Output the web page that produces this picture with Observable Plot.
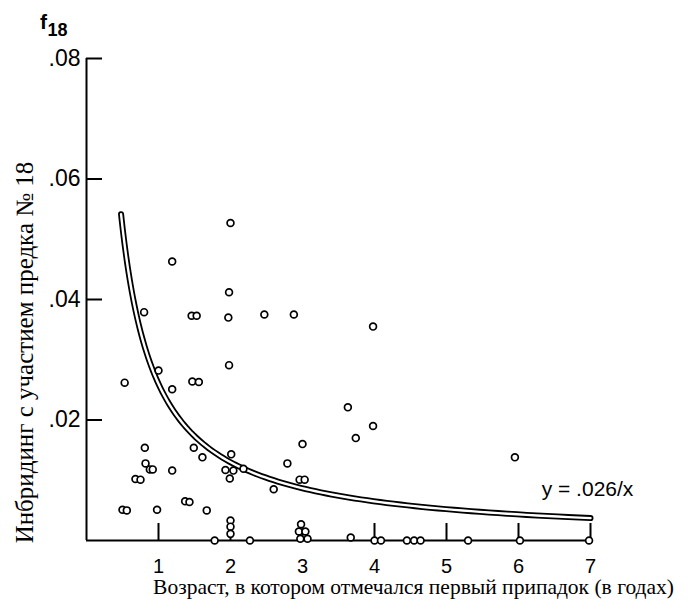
<!DOCTYPE html>
<html><head><meta charset="utf-8">
<script src="https://cdn.jsdelivr.net/npm/d3@7"></script>
<script src="https://cdn.jsdelivr.net/npm/@observablehq/plot@0.6"></script>
<style>body{margin:0;background:#fff}</style>
</head><body><div id="chart"></div>
<script>
// Data: age at first seizure (years) and inbreeding via ancestor #18
const ageX = [2.00,1.19,1.98,0.80,1.46,1.53,1.97,2.47,2.88,3.98,
  1.98,0.53,1.00,1.47,1.56,1.19,3.63,3.98,3.74,3.00,
  5.95,0.81,0.82,0.88,0.92,0.68,0.75,1.19,1.49,1.61,
  2.01,1.93,2.04,1.99,2.18,2.60,2.79,2.96,3.03,0.50,
  0.56,0.98,1.37,1.43,1.67,2.00,2.00,2.00,2.98,2.95,
  3.04,2.97,3.07,1.78,2.27,3.67,4.00,4.09,4.45,4.55,
  4.64,5.30,6.02,6.98];
const inbreedY = [.0527,.0463,.0412,.0379,.0373,.0373,.0370,.0375,.0375,.0355,
  .0291,.0262,.0282,.0264,.0263,.0251,.0221,.0190,.0170,.0160,
  .0138,.0154,.0128,.0118,.0118,.0102,.0101,.0116,.0154,.0138,
  .0143,.0117,.0116,.0103,.0119,.0085,.0128,.0101,.0101,.0051,
  .0050,.0051,.0065,.0064,.0050,.0033,.0023,.0011,.0027,.0015,
  .0015,.0003,.0003,0,0,.0005,0,0,0,0,
  0,0,0,0];
const xTicks = [1,2,3,4,5,6,7];
const xTickLabels = ["1","2","3","4","5","6","7"];
const yTicks = [0.02,0.04,0.06,0.08];
const yTickLabels = [".02",".04",".06",".08"];
const xTitle = "Возраст, в котором отмечался первый припадок (в годах)";
const yTitle = "Инбридинг с участием предка № 18";
const fSymbol = "f";
const fSub = "18";
const curveLabel = "y = .026/x";
const curveK = 0.026;       // fitted curve y = k / x
const curveRange = [0.48, 7];

const points = ageX.map((x, i) => ({x, y: inbreedY[i]}));
const curveXs = d3.range(120).map(i => curveRange[0] * Math.pow(curveRange[1] / curveRange[0], i / 119));
const curveData = curveXs.map(x => ({x, y: curveK / x}));

const sans = "Liberation Sans, Arial, sans-serif";
const serif = "Liberation Serif, Times New Roman, serif";

const chart = Plot.plot({
  width: 694,
  height: 601,
  marginLeft: 86,
  marginRight: 104,
  marginTop: 58,
  marginBottom: 61,
  x: {domain: [0, 7], label: null},
  y: {domain: [0, 0.08], label: null},
  style: {fontFamily: sans, background: "white", color: "black"},
  marks: [
    Plot.ruleX([0], {stroke: "black", strokeWidth: 2}),
    Plot.ruleY([0], {stroke: "black", strokeWidth: 2}),
    Plot.axisX({ticks: xTicks, tickSize: 17, dy: -17, tickFormat: () => "", strokeWidth: 2, label: null}),
    Plot.axisX({ticks: xTicks, tickSize: 0, tickPadding: 18, fontSize: 20, fontFamily: sans, label: null,
      tickFormat: d => xTickLabels[xTicks.indexOf(d)]}),
    Plot.axisY({ticks: yTicks, tickSize: 16, dx: 16, tickFormat: () => "", strokeWidth: 2, label: null}),
    Plot.axisY({ticks: yTicks, tickSize: 0, tickPadding: 6, fontSize: 23, fontFamily: sans, label: null,
      tickFormat: d => yTickLabels[yTicks.indexOf(d)]}),
    Plot.line(curveData, {x: "x", y: "y", stroke: "black", strokeWidth: 6}),
    Plot.line(curveData, {x: "x", y: "y", stroke: "white", strokeWidth: 2.4}),
    Plot.dot(points, {x: "x", y: "y", r: 3.4, stroke: "black", strokeWidth: 1.7, fill: "white"}),
    Plot.text([{x: curveRange[1], label: curveLabel}], {x: "x", y: d => curveK / d.x, text: "label",
      dx: -3, dy: -29, fontSize: 21, fontFamily: sans}),
    Plot.text([yTitle], {frameAnchor: "left", textAnchor: "middle", lineAnchor: "middle", rotate: -90,
      dx: -62, dy: 53, fontSize: 25, fontFamily: serif}),
    Plot.text([xTitle], {frameAnchor: "bottom", textAnchor: "middle", lineAnchor: "middle",
      dx: 75, dy: 47, fontSize: 21.5, fontFamily: serif}),
    Plot.text([fSymbol], {frameAnchor: "top-left", textAnchor: "middle", lineAnchor: "middle",
      dx: -43, dy: -36, fontSize: 21, fontWeight: "bold", fontFamily: sans}),
    Plot.text([fSub], {frameAnchor: "top-left", textAnchor: "middle", lineAnchor: "middle",
      dx: -29, dy: -28, fontSize: 18, fontWeight: "bold", fontFamily: sans})
  ]
});
document.getElementById("chart").appendChild(chart);
</script>
</body></html>
